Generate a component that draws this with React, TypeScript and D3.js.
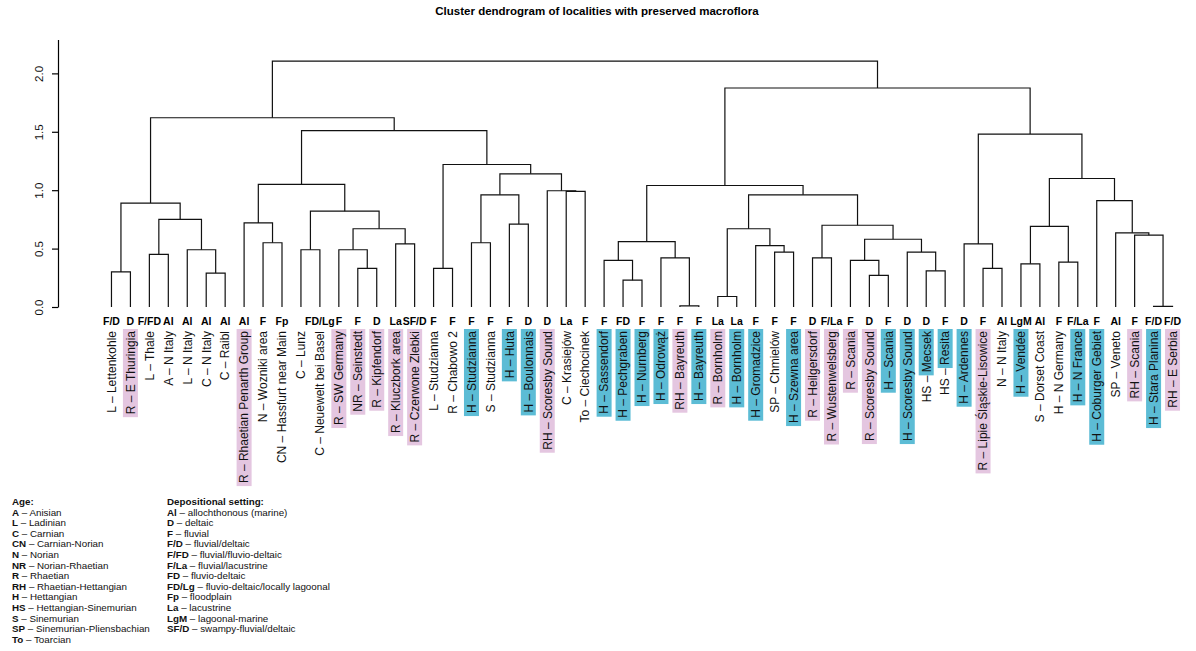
import { useEffect, useRef } from "react";
import * as d3 from "d3";

// leaves, left to right
const leafLabels = [
  "L – Lettenkohle", "R – E Thuringia", "L – Thale", "A – N Italy", "L – N Italy",
  "C – N Italy", "C – Raibl", "R – Rhaetian Penarth Group", "N – Wozniki area",
  "CN – Hassfurt near Main", "C – Lunz", "C – Neuewelt bei Basel", "R – SW Germany",
  "NR – Seinstedt", "R – Kipfendorf", "R – Kluczbork area", "R – Czerwone Zlebki",
  "L – Studzianna", "R – Chabowo 2", "H – Studzianna", "S – Studzianna", "H – Huta",
  "H – Boulonnais", "RH – Scoresby Sound", "C – Krasiejów", "To – Ciechocinek",
  "H – Sassendorf", "H – Pechgraben", "H – Nurnberg", "H – Odrowąż", "RH – Bayreuth",
  "H – Bayreuth", "R – Bornholm", "H – Bornholm", "H – Gromadzice", "SP – Chmielów",
  "H – Szewna area", "R – Heilgersdorf", "R – Wustenwelsberg", "R – Scania",
  "R – Scoresby Sound", "H – Scania", "H – Scoresby Sound", "HS – Mecsek", "HS – Resita",
  "H – Ardennes", "R – Lipie Śląskie-Lisowice", "N – N Italy", "H – Vendée",
  "S – Dorset Coast", "H – N Germany", "H – N France", "H – Coburger Gebiet",
  "SP – Veneto", "RH – Scania", "H – Stara Planina", "RH – E Serbia",
];

const leafCodes = [
  "F/D", "D", "F/FD", "Al", "Al", "Al", "Al", "Al", "F", "Fp", "", "FD/Lg", "F", "F", "D",
  "La", "SF/D", "F", "F", "F", "F", "F", "D", "D", "La", "F", "F", "FD", "F", "F", "F",
  "F", "La", "La", "F", "F", "F", "D", "F/La", "F", "D", "F", "D", "D", "F", "D", "F",
  "Al", "LgM", "Al", "F", "F/La", "F", "Al", "F", "F/D", "F/D",
];

// p = pink (Rhaetian), b = blue (Hettangian), h = blue on locality only
const leafMarks = [
  "", "p", "", "", "", "", "", "p", "", "", "", "", "p", "p", "p", "p", "p", "", "", "b",
  "", "b", "b", "p", "", "", "b", "b", "b", "b", "p", "b", "p", "b", "b", "", "b", "p",
  "p", "p", "p", "b", "b", "h", "h", "b", "p", "", "b", "", "", "b", "b", "", "p", "b", "p",
];

// hclust style merges: negative = leaf number, positive = earlier merge
const merges: [number, number, number][] = [
  [-1, -2, 0.3], [-3, -4, 0.45], [-6, -7, 0.29], [-5, 3, 0.49], [2, 4, 0.75],
  [1, 5, 0.89], [-9, -10, 0.55], [-8, 7, 0.72], [-11, -12, 0.49], [-14, -15, 0.33],
  [-13, 10, 0.49], [-16, -17, 0.54], [11, 12, 0.67], [9, 13, 0.82], [8, 14, 1.05],
  [-18, -19, 0.33], [-20, -21, 0.55], [-22, -23, 0.71], [17, 18, 0.96], [-25, -26, 0.99],
  [-24, 20, 0.995], [19, 21, 1.14], [16, 22, 1.22], [15, 23, 1.51], [6, 24, 1.62],
  [-28, -29, 0.23], [-27, 26, 0.4], [-31, -32, 0.01], [-30, 28, 0.42], [27, 29, 0.56],
  [-33, -34, 0.09], [-36, -37, 0.47], [-35, 32, 0.525], [31, 33, 0.67], [-38, -39, 0.42],
  [-41, -42, 0.27], [-40, 36, 0.4], [-44, -45, 0.31], [-43, 38, 0.47], [37, 39, 0.58],
  [35, 40, 0.7], [34, 41, 0.96], [30, 42, 1.04], [-47, -48, 0.33], [-46, 44, 0.54],
  [-49, -50, 0.37], [-51, -52, 0.385], [46, 47, 0.69], [-56, -57, 0.005], [-55, 49, 0.615],
  [-54, 50, 0.635], [-53, 51, 0.91], [48, 52, 1.1], [45, 53, 1.48], [43, 54, 1.875],
  [25, 55, 2.105],
];

const yTicks = [0, 0.5, 1, 1.5, 2];

const ageCodes = ["A", "L", "C", "CN", "N", "NR", "R", "RH", "H", "HS", "S", "SP", "To"];
const ageNames = [
  "Anisian", "Ladinian", "Carnian", "Carnian-Norian", "Norian", "Norian-Rhaetian", "Rhaetian",
  "Rhaetian-Hettangian", "Hettangian", "Hettangian-Sinemurian", "Sinemurian",
  "Sinemurian-Pliensbachian", "Toarcian",
];
const settingCodes = ["Al", "D", "F", "F/D", "F/FD", "F/La", "FD", "FD/Lg", "Fp", "La", "LgM", "SF/D"];
const settingNames = [
  "allochthonous (marine)", "deltaic", "fluvial", "fluvial/deltaic", "fluvial/fluvio-deltaic",
  "fluvial/lacustrine", "fluvio-deltaic", "fluvio-deltaic/locally lagoonal", "floodplain",
  "lacustrine", "lagoonal-marine", "swampy-fluvial/deltaic",
];

const W = 1196, H = 651;
const FONT = "'Liberation Sans', Arial, Helvetica, sans-serif";
const PINK = "#e4c6e0", BLUE = "#5cbcd5";

function buildTree() {
  const nodes: any[] = [];
  const get = (i: number) => (i < 0 ? { leaf: -i - 1, h: 0 } : nodes[i - 1]);
  merges.forEach(([a, b, h]) => nodes.push({ h, children: [get(a), get(b)] }));
  return nodes[nodes.length - 1];
}

export default function App() {
  const svgRef = useRef<SVGSVGElement>(null);

  useEffect(() => {
    const svg = d3.select(svgRef.current);
    svg.selectAll("*").remove();

    const y = d3.scaleLinear([0, 2.29], [307, 39.5]);
    const x0 = 102, x1 = 1182;

    const root = d3.hierarchy(buildTree());
    d3.cluster().size([x1 - x0, 1]).separation(() => 1)(root as any);

    svg.append("text")
      .attr("x", 597).attr("y", 15)
      .attr("text-anchor", "middle")
      .attr("font-family", FONT).attr("font-weight", "bold").attr("font-size", 11.5)
      .text("Cluster dendrogram of localities with preserved macroflora");

    // y axis
    const ax = svg.append("g")
      .attr("transform", "translate(58,0)")
      .call(d3.axisLeft(y).tickValues(yTicks).tickFormat(d3.format(".1f")).tickSize(6).tickSizeOuter(0));
    ax.select(".domain").attr("stroke-width", 1.2);
    ax.selectAll("line").attr("stroke-width", 1.2);
    ax.selectAll("text")
      .attr("x", null).attr("dy", null)
      .attr("transform", "translate(-15,0) rotate(-90)")
      .attr("text-anchor", "middle")
      .attr("font-family", FONT).attr("font-size", 11.5).attr("fill", "#111");

    // links
    const g = svg.append("g").attr("transform", `translate(${x0},0)`);
    g.selectAll("path")
      .data(root.descendants().filter((d: any) => d.children))
      .join("path")
      .attr("fill", "none").attr("stroke", "#111").attr("stroke-width", 1.2)
      .attr("d", (d: any) => {
        const [a, b] = d.children;
        return `M${a.x},${y(a.data.h)}V${y(d.data.h)}H${b.x}V${y(b.data.h)}`;
      });

    const leaves = root.leaves() as any[];

    // codes
    g.selectAll("text.code")
      .data(leaves)
      .join("text")
      .attr("class", "code")
      .attr("x", (d) => d.x).attr("y", 325)
      .attr("text-anchor", "middle")
      .attr("font-family", FONT).attr("font-weight", "bold").attr("font-size", 10.5)
      .text((d) => leafCodes[d.data.leaf]);

    // rotated labels with highlight boxes
    const lab = g.selectAll("g.lab")
      .data(leaves)
      .join("g")
      .attr("class", "lab")
      .attr("transform", (d) => `translate(${d.x},331) rotate(-90)`);
    lab.each(function (d) {
      const el = d3.select(this);
      const i = d.data.leaf;
      const txt = leafLabels[i];
      const mark = leafMarks[i];
      const rect = el.append("rect");
      const t = el.append("text")
        .attr("text-anchor", "end").attr("dy", "0.36em")
        .attr("font-family", FONT).attr("font-size", 12).attr("fill", "#111")
        .text(txt);
      if (!mark) { rect.remove(); return; }
      const node = t.node() as SVGTextElement;
      let len = node.getComputedTextLength();
      if (mark === "h") {
        const k = txt.indexOf("–") + 2;
        len = node.getSubStringLength(k, txt.length - k);
      }
      rect.attr("x", -len - 3).attr("y", -7.5).attr("width", len + 5).attr("height", 15)
        .attr("fill", mark === "p" ? PINK : BLUE);
    });

    // legend
    const legend = (xPos: number, title: string, codes: string[], names: string[]) => {
      const lg = svg.append("g").attr("font-family", FONT).attr("font-size", 9.8).attr("fill", "#111");
      lg.append("text").attr("x", xPos).attr("y", 505).attr("font-weight", "bold").text(title);
      codes.forEach((c, k) => {
        const t = lg.append("text").attr("x", xPos).attr("y", 505 + (k + 1) * 10.6);
        t.append("tspan").attr("font-weight", "bold").text(c);
        t.append("tspan").text(" – " + names[k]);
      });
    };
    legend(12, "Age:", ageCodes, ageNames);
    legend(167, "Depositional setting:", settingCodes, settingNames);
  }, []);

  return (
    <svg
      ref={svgRef}
      width={W}
      height={H}
      style={{ position: "absolute", left: 0, top: 0, background: "#fff" }}
    />
  );
}
